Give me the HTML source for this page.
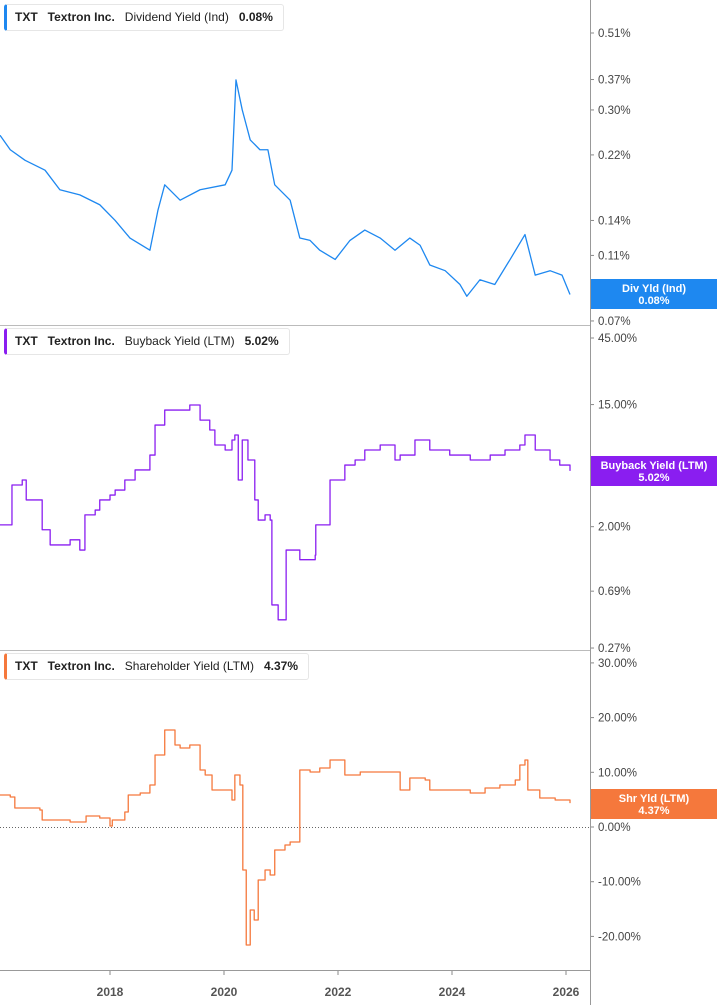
<!DOCTYPE html>
<html><head><meta charset="utf-8"><style>
body{margin:0;background:#fff;font-family:"Liberation Sans",sans-serif}
svg{display:block}
.leg{position:absolute;left:4px;height:25px;border:1px solid #e6e6e6;border-left:3px solid;border-radius:3px;background:#fff;font-size:12px;font-weight:bold;color:#222;line-height:25px;padding:0 10px 0 8px;white-space:nowrap}
.leg span{margin-right:10px}.leg .n{font-weight:normal}
</style></head><body>
<div style="position:relative;width:717px;height:1005px">
<svg id="c" width="717" height="1005"></svg>
<div class="leg" style="top:4px;border-left-color:#1e88f0"><span>TXT</span><span>Textron Inc.</span><span class="n">Dividend Yield (Ind)</span>0.08%</div>
<div class="leg" style="top:328px;border-left-color:#8a1ef0"><span>TXT</span><span>Textron Inc.</span><span class="n">Buyback Yield (LTM)</span>5.02%</div>
<div class="leg" style="top:653px;border-left-color:#f5783c"><span>TXT</span><span>Textron Inc.</span><span class="n">Shareholder Yield (LTM)</span>4.37%</div>
</div>
<script>
const divDates=[2016.07,2016.25,2016.51,2016.86,2017.12,2017.47,2017.82,2018.09,2018.35,2018.70,2018.84,2018.96,2019.23,2019.58,2020.02,2020.14,2020.21,2020.32,2020.46,2020.63,2020.77,2020.89,2021.16,2021.33,2021.51,2021.68,2021.95,2022.21,2022.47,2022.74,2023.00,2023.26,2023.44,2023.61,2023.88,2024.14,2024.26,2024.49,2024.75,2025.02,2025.28,2025.46,2025.72,2025.93,2026.07];
const divVals=[0.252,0.228,0.212,0.198,0.173,0.167,0.156,0.140,0.124,0.114,0.150,0.179,0.161,0.173,0.179,0.198,0.369,0.300,0.244,0.228,0.228,0.179,0.161,0.124,0.122,0.114,0.107,0.122,0.131,0.124,0.114,0.124,0.118,0.103,0.099,0.090,0.083,0.093,0.090,0.107,0.127,0.096,0.099,0.096,0.084];
const bbDates=[2016.07,2016.25,2016.28,2016.46,2016.53,2016.77,2016.81,2016.95,2017.30,2017.47,2017.56,2017.74,2017.82,2018.00,2018.09,2018.26,2018.44,2018.70,2018.79,2018.96,2019.23,2019.40,2019.58,2019.75,2019.84,2020.02,2020.14,2020.19,2020.25,2020.32,2020.42,2020.54,2020.60,2020.72,2020.81,2020.84,2020.95,2021.07,2021.09,2021.33,2021.60,2021.61,2021.77,2021.86,2022.04,2022.12,2022.30,2022.47,2022.74,2023.00,2023.09,2023.26,2023.35,2023.61,2023.96,2024.32,2024.67,2024.93,2025.19,2025.28,2025.46,2025.72,2025.89,2026.07];
const bbVals=[2.06,2.06,3.98,4.32,3.11,3.11,1.90,1.48,1.61,1.36,2.43,2.63,3.11,3.37,3.66,4.32,5.10,6.52,10.7,13.7,13.7,14.9,11.6,9.86,7.70,7.09,8.36,9.08,4.32,8.36,6.01,3.11,2.23,2.43,2.23,0.55,0.43,0.43,1.36,1.16,1.25,2.06,2.06,4.32,4.32,5.53,6.01,7.09,7.70,6.01,6.52,6.52,8.36,7.09,6.52,6.01,6.52,7.09,7.70,9.08,7.09,6.01,5.53,5.02];
const shDates=[2016.07,2016.25,2016.33,2016.77,2016.81,2017.30,2017.56,2017.58,2017.82,2018.00,2018.04,2018.26,2018.32,2018.53,2018.70,2018.79,2018.96,2019.14,2019.23,2019.40,2019.58,2019.67,2019.79,2020.02,2020.14,2020.19,2020.28,2020.33,2020.39,2020.46,2020.53,2020.60,2020.72,2020.81,2020.89,2021.07,2021.16,2021.28,2021.33,2021.51,2021.68,2021.86,2022.12,2022.39,2022.74,2023.09,2023.26,2023.53,2023.61,2023.96,2024.32,2024.58,2024.84,2025.11,2025.19,2025.28,2025.33,2025.54,2025.81,2026.07];
const shVals=[5.85,5.48,3.47,3.11,1.28,0.91,0.91,2.01,1.65,0.18,1.28,2.74,5.85,6.22,7.68,13.16,17.73,14.99,14.44,14.99,10.42,9.51,6.76,6.76,4.94,9.51,7.68,-7.86,-21.57,-15.17,-17.0,-9.69,-7.86,-8.78,-4.2,-3.29,-2.74,-2.74,10.42,10.05,10.79,12.25,9.51,10.05,10.05,6.76,8.96,8.59,6.76,6.76,6.22,7.13,7.68,8.59,11.33,12.25,6.76,5.30,4.94,4.37];
const divTicks=[0.51,0.37,0.30,0.22,0.14,0.11,0.07];
const bbTicks=[45,15,2,0.69,0.27];
const shTicks=[30,20,10,0,-10,-20];
const years=[2018,2020,2022,2024,2026];
const NS="http://www.w3.org/2000/svg",svg=document.getElementById('c');
function el(t,a,txt){const e=document.createElementNS(NS,t);for(const k in a)e.setAttribute(k,a[k]);if(txt!==undefined)e.textContent=txt;svg.appendChild(e);return e;}
const X=d=>(d-2016.07)*57;
const Y1=v=>33+145*Math.log(0.51/v);
const Y2=v=>338+60.6*Math.log(45/v);
const Y3=v=>827-5.47*v;
function line(ds,vs,Y,col,step,name){let p='';ds.forEach((d,i)=>{const x=X(d),y=Y(vs[i]);if(i===0)p+='M'+x+' '+y;else{if(step)p+='H'+x;p+='L'+x+' '+y;}});
const e=el('path',{d:p,fill:'none',stroke:col,'stroke-width':1.3,'stroke-linejoin':'round'});

}
el('line',{x1:590.5,y1:0,x2:590.5,y2:1005,stroke:'#999'});
el('line',{x1:0,y1:325.5,x2:590,y2:325.5,stroke:'#bbb'});
el('line',{x1:0,y1:650.5,x2:590,y2:650.5,stroke:'#bbb'});
el('line',{x1:0,y1:970.5,x2:590,y2:970.5,stroke:'#999'});
el('line',{x1:0,y1:827.5,x2:590,y2:827.5,stroke:'#666','stroke-dasharray':'1,2'});
function ticks(arr,Y,fmt){arr.forEach(v=>{const y=Y(v);el('line',{x1:591,y1:y,x2:594,y2:y,stroke:'#888'});
const t=el('text',{x:598,y:y+4,'font-size':11.5,fill:'#444'},fmt(v));

});}
ticks(divTicks,Y1,v=>v.toFixed(2)+'%');
ticks(bbTicks,Y2,v=>v.toFixed(2)+'%');
ticks(shTicks,Y3,v=>v.toFixed(2)+'%');
years.forEach(yr=>{const x=X(yr);el('line',{x1:x,y1:971,x2:x,y2:975,stroke:'#888'});
const t=el('text',{x:x,y:996,'font-size':12,'font-weight':'bold',fill:'#555','text-anchor':'middle'},yr);

});
line(divDates,divVals,Y1,'#1e88f0',false,'dividend-yield-line');
line(bbDates,bbVals,Y2,'#8a1ef0',true,'buyback-yield-line');
line(shDates,shVals,Y3,'#f5783c',true,'shareholder-yield-line');
function badge(y,h,col,l1,l2,name){const r=el('rect',{x:591,y:y,width:126,height:h,fill:col});


el('text',{x:654,y:y+h/2-2,'font-size':11,'font-weight':'bold',fill:'#fff','text-anchor':'middle'},l1);
el('text',{x:654,y:y+h/2+10,'font-size':11,'font-weight':'bold',fill:'#fff','text-anchor':'middle'},l2);}
badge(279,30,'#1e88f0','Div Yld (Ind)','0.08%','dividend-badge');
badge(456,30,'#8a1ef0','Buyback Yield (LTM)','5.02%','buyback-badge');
badge(789,30,'#f5783c','Shr Yld (LTM)','4.37%','shareholder-badge');
</script>
</body></html>
